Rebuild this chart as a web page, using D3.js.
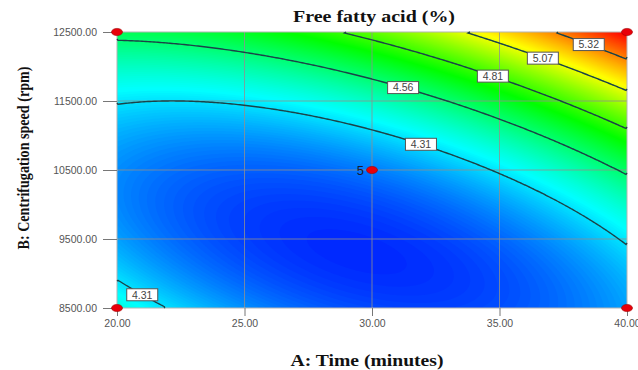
<!DOCTYPE html>
<html>
<head>
<meta charset="utf-8">
<script src="https://cdn.jsdelivr.net/npm/d3@7"></script>
<style>
  html, body { margin: 0; padding: 0; background: #fff; }
  .tick text { font-family: "Liberation Sans", Arial, sans-serif; font-size: 10.5px; fill: #555; }
  .tick line { stroke: #777; }
  .ttl { font-family: "Liberation Serif", "Times New Roman", serif; font-weight: bold; font-size: 16px; fill: #111; }
</style>
</head>
<body>
<div id="chart"></div>
<script>
// factor ticks
const timeTicks = [20, 25, 30, 35, 40];
const speedTicks = [8500, 9500, 10500, 11500, 12500];

// fitted response surface (coded units): 1, A, B, AB, A^2, B^2
const modelTerms = ["1", "A", "B", "AB", "A2", "B2"];
const modelCoef = [4.172, 0.195, 0.3845, 0.2855, 0.216, 0.31];

// contour levels shown
const levels = [4.31, 4.56, 4.81, 5.07, 5.32];

// contour label spots (level, time, approx speed)
const labelLevels = [4.31, 4.31, 4.56, 4.81, 5.07, 5.32];
const labelTime = [31.92, 20.99, 31.22, 34.74, 36.70, 38.50];
const labelSpeed = [10920, 8754, 11754, 11922, 12178, 12380];

// design points
const pointTime = [20, 20, 40, 40, 30];
const pointSpeed = [8500, 12500, 12500, 8500, 10500];
const pointReps = [1, 1, 1, 1, 5];

const W = 638, H = 370;
const margin = { top: 32, right: 11, bottom: 62, left: 117 };
const width = W - margin.left - margin.right;   // 510
const height = H - margin.top - margin.bottom;  // 276

const svg = d3.select("#chart").append("svg")
  .attr("width", W).attr("height", H);

const g = svg.append("g").attr("transform", `translate(${margin.left},${margin.top})`);

const x = d3.scaleLinear().domain([20, 40]).range([0, width]);
const y = d3.scaleLinear().domain([8500, 12500]).range([height, 0]);

const coded = (t, s) => [(t - 30) / 10, (s - 10500) / 2000];
const model = (a, b) => {
  const [c0, c1, c2, c12, c11, c22] = modelCoef;
  return c0 + c1 * a + c2 * b + c12 * a * b + c11 * a * a + c22 * b * b;
};

// sample surface on grid
const cell = 2;
const n = width / cell, m = height / cell;
const values = new Array(n * m);
for (let j = 0; j < m; j++) {
  for (let i = 0; i < n; i++) {
    const [a, b] = coded(x.invert((i + 0.5) * cell), y.invert((j + 0.5) * cell));
    values[j * n + i] = model(a, b);
  }
}
const [vmin, vmax] = d3.extent(values);

const color = d3.scaleLinear()
  .domain([0, 0.2, 0.45, 0.7, 1].map(t => vmin + t * (vmax - vmin)))
  .range(["#0028ff", "#00ffff", "#00ff00", "#ffff00", "#ff0000"])
  .clamp(true);

const proj = d3.geoTransform({
  point: function (px, py) { this.stream.point(px * cell, py * cell); }
});
const path = d3.geoPath(proj);

// filled bands, painted low to high
const step = 0.008;
const bandThr = d3.range(Math.floor(vmin * 100) / 100, vmax, step);
const bands = d3.contours().size([n, m]).thresholds(bandThr)(values);
g.append("g")
  .selectAll("path")
  .data(bands)
  .join("path")
  .attr("d", path)
  .attr("fill", d => color(d.value + step / 2))
  .attr("stroke", "none");

// grid lines
g.append("g").selectAll("line")
  .data(timeTicks.slice(1, -1))
  .join("line")
  .attr("x1", d => x(d)).attr("x2", d => x(d))
  .attr("y1", 0).attr("y2", height)
  .attr("stroke", "#909090").attr("stroke-opacity", 0.8);
g.append("g").selectAll("line")
  .data(speedTicks.slice(1, -1))
  .join("line")
  .attr("y1", d => y(d)).attr("y2", d => y(d))
  .attr("x1", 0).attr("x2", width)
  .attr("stroke", "#909090").attr("stroke-opacity", 0.8);

g.append("rect")
  .attr("width", width).attr("height", height)
  .attr("fill", "none").attr("stroke", "#b4b4b4");

// contour lines without the plot-edge pieces
const onEdge = p => p[0] === 0 || p[0] === n || p[1] === 0 || p[1] === m;
const isoLines = [];
d3.contours().size([n, m]).thresholds(levels)(values).forEach(c => {
  c.coordinates.forEach(poly => poly.forEach(ring => {
    let cur = [];
    for (let k = 0; k < ring.length; k++) {
      const p = ring[k];
      if (cur.length && onEdge(p) && onEdge(cur[cur.length - 1])) {
        if (cur.length > 1) isoLines.push(cur);
        cur = [p];
      } else {
        cur.push(p);
      }
    }
    if (cur.length > 1) isoLines.push(cur);
  }));
});
const line = d3.line().x(p => p[0] * cell).y(p => p[1] * cell);
g.append("g").selectAll("path")
  .data(isoLines)
  .join("path")
  .attr("d", line)
  .attr("fill", "none")
  .attr("stroke", "#1b4348")
  .attr("stroke-width", 1.4);

// contour labels, snapped onto the level curve
const labels = labelLevels.map((lv, i) => {
  const [a, b0] = coded(labelTime[i], labelSpeed[i]);
  const [c0, c1, c2, c12, c11, c22] = modelCoef;
  const A = c22, B = c2 + c12 * a, C = c0 + c1 * a + c11 * a * a - lv;
  const disc = Math.sqrt(Math.max(0, B * B - 4 * A * C));
  const roots = [(-B + disc) / (2 * A), (-B - disc) / (2 * A)];
  const b = Math.abs(roots[0] - b0) < Math.abs(roots[1] - b0) ? roots[0] : roots[1];
  return { lv, t: labelTime[i], s: 10500 + b * 2000 };
});
const lab = g.append("g").selectAll("g")
  .data(labels)
  .join("g")
  .attr("transform", d => `translate(${x(d.t)},${y(d.s)})`);
lab.append("rect")
  .attr("x", -15.5).attr("y", -6).attr("width", 31).attr("height", 12)
  .attr("fill", "#fff").attr("stroke", "#555").attr("stroke-width", 1);
lab.append("text")
  .attr("text-anchor", "middle").attr("dy", "0.36em")
  .style("font-family", "'Liberation Sans', Arial, sans-serif")
  .style("font-size", "10.5px").style("fill", "#444")
  .text(d => d3.format(".2f")(d.lv));

// axes
const yAxis = d3.axisLeft(y).tickValues(speedTicks).tickFormat(d3.format(".2f"))
  .tickSize(14).tickPadding(6);
const xAxis = d3.axisBottom(x).tickValues(timeTicks).tickFormat(d3.format(".2f"))
  .tickSize(8).tickPadding(4);
g.append("g").call(yAxis).call(s => s.select(".domain").remove());
g.append("g").attr("transform", `translate(0,${height})`).call(xAxis)
  .call(s => s.select(".domain").remove());

// design points
g.append("g").selectAll("ellipse")
  .data(pointTime.map((t, i) => ({ t, s: pointSpeed[i], r: pointReps[i] })))
  .join("ellipse")
  .attr("cx", d => x(d.t)).attr("cy", d => y(d.s))
  .attr("rx", 5.5).attr("ry", 3.6)
  .attr("fill", "#e8000a").attr("stroke", "#a00000").attr("stroke-width", 0.6);
g.append("g").selectAll("text")
  .data(pointTime.map((t, i) => ({ t, s: pointSpeed[i], r: pointReps[i] })).filter(d => d.r > 1))
  .join("text")
  .attr("x", d => x(d.t) - 8).attr("y", d => y(d.s))
  .attr("dy", "0.36em").attr("text-anchor", "end")
  .style("font-family", "'Liberation Sans', Arial, sans-serif")
  .style("font-size", "13px").style("fill", "#1a1a30")
  .text(d => d.r);

// titles
svg.append("text").attr("class", "ttl")
  .attr("x", 374).attr("y", 22).attr("text-anchor", "middle")
  .attr("textLength", 162).attr("lengthAdjust", "spacingAndGlyphs")
  .text("Free fatty acid (%)");
svg.append("text").attr("class", "ttl")
  .attr("x", 367).attr("y", 366).attr("text-anchor", "middle")
  .attr("textLength", 153).attr("lengthAdjust", "spacingAndGlyphs")
  .text("A: Time (minutes)");
svg.append("text").attr("class", "ttl")
  .attr("transform", "translate(29,158) rotate(-90)").attr("text-anchor", "middle")
  .attr("textLength", 183).attr("lengthAdjust", "spacingAndGlyphs")
  .text("B: Centrifugation speed (rpm)");
</script>
</body>
</html>
